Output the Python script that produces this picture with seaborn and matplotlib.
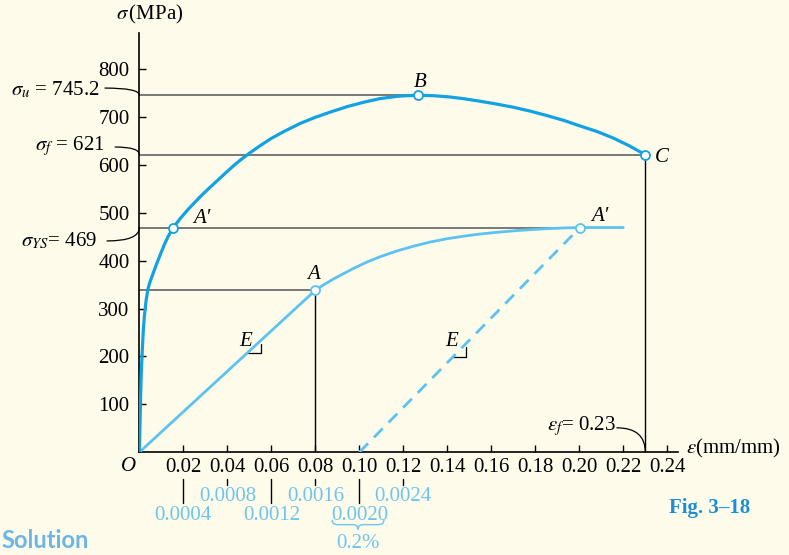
import matplotlib
matplotlib.use('Agg')
import matplotlib.pyplot as plt
from matplotlib.path import Path
from matplotlib.patches import PathPatch
import seaborn as sns

# --- values ---
# engineering stress-strain curve, large strain scale
upper_strain = [0, 0.0003, 0.0006, 0.0009, 0.00136, 0.0018, 0.00227, 0.00305, 0.00395,
                0.0048, 0.00577, 0.00759, 0.00941, 0.01123, 0.01305, 0.01545, 0.01845,
                0.0222, 0.0276, 0.031, 0.035, 0.039, 0.0426, 0.046,
                0.050, 0.055, 0.060, 0.066, 0.073, 0.080, 0.0875, 0.095, 0.1025,
                0.1094, 0.1175, 0.1268, 0.134, 0.141, 0.148, 0.1549, 0.162, 0.170,
                0.1776, 0.185, 0.193, 0.2003, 0.208, 0.2153, 0.2225, 0.23]
upper_stress = [0, 60, 120, 168, 214, 255, 283, 316, 341,
                355, 367, 390, 411, 432, 450, 469, 487,
                507, 533, 548, 565, 582, 597, 610,
                624, 640, 655, 670, 686, 699, 711, 722, 731,
                738, 743, 745.2, 744, 741.5, 737.5, 732.5, 727, 720,
                712, 703, 692.5, 681, 669.5, 656, 640, 621]

# the same curve with the strain scale stretched (lower axis labels)
lower_strain = [0, 0.08, 0.084, 0.088, 0.0925, 0.0975, 0.103, 0.1094, 0.117,
                0.1246, 0.132, 0.1397, 0.1475, 0.155, 0.1625, 0.170, 0.1775,
                0.185, 0.1925, 0.2003, 0.22]
lower_stress = [0, 338, 350, 361, 372, 384, 396, 408, 420,
                430, 438.5, 445.5, 451, 455.5, 459, 462, 464.5,
                466.5, 468, 469, 469]

# 0.2 % offset line
offset_strain = [0.10, 0.2003]
offset_stress = [0, 469]

upper_pts_strain = [0.01545, 0.1268, 0.23]
upper_pts_stress = [469, 745.2, 621]
lower_pts_strain = [0.08, 0.2003]
lower_pts_stress = [338, 469]

x_ticks = [0.02, 0.04, 0.06, 0.08, 0.10, 0.12, 0.14, 0.16, 0.18, 0.20, 0.22, 0.24]
y_ticks = [100, 200, 300, 400, 500, 600, 700, 800]
small_ticks = [0.02, 0.04, 0.06, 0.08, 0.10, 0.12]
small_labels = ['0.0004', '0.0008', '0.0012', '0.0016', '0.0020', '0.0024']

BG = '#fefbea'
DARK = '#12a2e2'
LIGHT = '#5cc2f0'
LBL_BLUE = '#6cc5ee'
FS = 15

sns.set_style('ticks')
plt.rcParams['font.family'] = ['Liberation Serif', 'DejaVu Serif']
plt.rcParams['mathtext.fontset'] = 'stix'
plt.rcParams['text.color'] = 'black'

fig = plt.figure(figsize=(7.89, 5.55), dpi=100, facecolor=BG)
ax = fig.add_axes([0.1766, 0.1851, 0.6828, 0.7555])
ax.set_facecolor(BG)

# reference lines
ax.hlines([745.2, 621, 469, 338], 0, [0.1268, 0.23, 0.2003, 0.08],
          color='#555555', lw=1.1, zorder=1)
ax.vlines([0.08, 0.23], 0, [338, 621], color='black', lw=1.0, zorder=1)

# curves
sns.lineplot(x=lower_strain, y=lower_stress, sort=False, estimator=None,
             color=LIGHT, linewidth=2.0, ax=ax, zorder=3)
sns.lineplot(x=offset_strain, y=offset_stress, sort=False, estimator=None,
             color=LIGHT, linewidth=2.0, ax=ax, zorder=3)
ax.lines[-1].set_dashes([4.5, 3])
sns.lineplot(x=upper_strain, y=upper_stress, sort=False, estimator=None,
             color=DARK, linewidth=2.3, ax=ax, zorder=4)

sns.scatterplot(x=upper_pts_strain, y=upper_pts_stress, s=42, color='white',
                edgecolor=DARK, linewidth=1.3, ax=ax, zorder=5)
sns.scatterplot(x=lower_pts_strain, y=lower_pts_stress, s=42, color='white',
                edgecolor=LIGHT, linewidth=1.3, ax=ax, zorder=5)

ax.set_xlim(0, 0.2449)
ax.set_ylim(0, 875)
ax.set_xticks(x_ticks)
ax.set_xticklabels([f'{t:.2f}' for t in x_ticks])
ax.set_yticks(y_ticks)
ax.set_xlabel('')
ax.set_ylabel('')
ax.tick_params(direction='in', length=5, width=1, colors='black', labelsize=FS)
ax.tick_params(axis='x', pad=4)
ax.tick_params(axis='y', pad=7)
sns.despine(ax=ax)
for s in ['left', 'bottom']:
    ax.spines[s].set_color('black')
    ax.spines[s].set_linewidth(1.2)

# axis titles
ax.text(0.0045, 913, r'$\sigma\,$(MPa)', fontsize=FS, ha='center', va='center', clip_on=False)
ax.text(0.2487, 8, r'$\epsilon$(mm/mm)', fontsize=FS, ha='left', va='center', clip_on=False)
ax.text(-0.0051, -30, 'O', fontsize=FS, style='italic', ha='center', va='center')

# point names
ital = dict(fontsize=FS, style='italic', ha='center', va='center')
ax.text(0.0284, 488, 'A′', **ital)
ax.text(0.1276, 771, 'B', **ital)
ax.text(0.2375, 616, 'C', **ital)
ax.text(0.0791, 370, 'A', **ital)
ax.text(0.2094, 492, 'A′', **ital)
ax.text(0.0481, 232, 'E', **ital)
ax.text(0.1420, 232, 'E', **ital)

# small right-angle marks on the slopes
for x0, slope, x_base in [(0.0492, 338 / 0.08, 0), (0.1427, 469 / 0.1003, 0.10)]:
    y0 = slope * (x0 - x_base)
    ax.plot([x0, x0 + 0.006, x0 + 0.006], [y0, y0, y0 + 19], color='black', lw=0.9, zorder=2)

# value labels with curved leaders
lead = dict(arrowstyle='-', lw=0.9, color='black', shrinkA=0, shrinkB=0)
for txt, tx, ty, sx, sy, ex, ey in [
        (r'$\sigma_u$ = 745.2', -0.0180, 757, -0.0156, 760, 0, 745.2),
        (r'$\sigma_f$ = 621', -0.0158, 640, -0.0110, 637, 0, 621),
        (r'$\sigma_{YS}$= 469', -0.0194, 440, -0.0147, 441, 0, 469),
        (r'$\epsilon_f$= 0.23', 0.2168, 54, 0.2171, 51, 0.23, 0)]:
    ax.text(tx, ty, txt, fontsize=FS, ha='right', va='center', clip_on=False)
    ax.annotate('', xy=(ex, ey), xytext=(sx, sy), annotation_clip=False,
                arrowprops=dict(connectionstyle='angle3,angleA=0,angleB=90', **lead))

# secondary strain scale under the axis
for i, (t, lab) in enumerate(zip(small_ticks, small_labels)):
    if i % 2 == 0:
        ax.plot([t, t], [-56, -105], color='black', lw=1.0, clip_on=False)
        ax.text(t, -131, lab, color=LBL_BLUE, fontsize=FS, ha='center', va='center')
    else:
        ax.plot([t, t], [-56, -68], color='black', lw=1.0, clip_on=False)
        ax.text(t, -92, lab, color=LBL_BLUE, fontsize=FS, ha='center', va='center')

# brace under 0.0020 with 0.2%
xl, xc, xr = 0.0876, 0.0994, 0.1112
yt, ym, yb = -141, -151, -161
dx = 0.0025
verts = [(xl, yt), (xl, ym), (xl + dx, ym), (xc - dx, ym), (xc, ym), (xc, yb),
         (xc, ym), (xc + dx, ym), (xr - dx, ym), (xr, ym), (xr, yt)]
codes = [Path.MOVETO, Path.CURVE3, Path.CURVE3, Path.LINETO, Path.CURVE3, Path.CURVE3,
         Path.CURVE3, Path.CURVE3, Path.LINETO, Path.CURVE3, Path.CURVE3]
ax.add_patch(PathPatch(Path(verts, codes), fill=False, edgecolor=LBL_BLUE, lw=1.0, clip_on=False))
ax.text(0.0994, -191, '0.2%', color=LBL_BLUE, fontsize=FS, ha='center', va='center')

fig.text(0.848, 0.085, 'Fig. 3–18', color='#1b8fd3', fontsize=15, fontweight='bold',
         ha='left', va='center')
fig.text(0.002, 0.012, 'Solution', color='#6ab6e6', fontsize=17, fontweight='bold',
         family='Lato', ha='left', va='baseline')

fig.savefig('out.png', dpi=100, facecolor=BG)
